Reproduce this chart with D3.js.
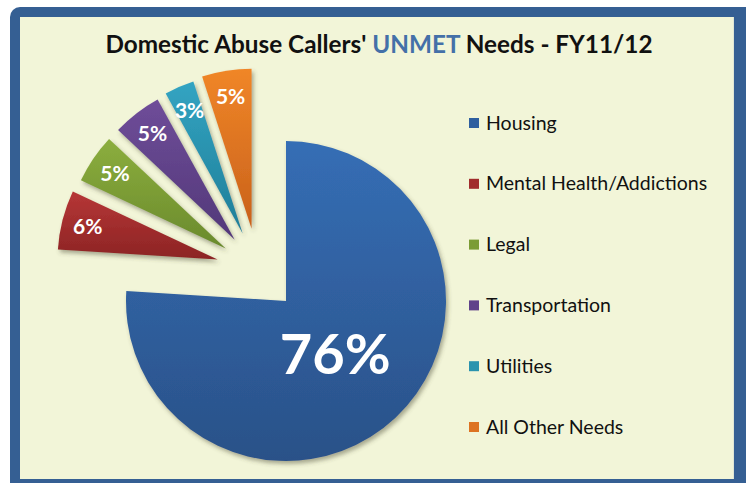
<!DOCTYPE html>
<html><head><meta charset="utf-8">
<script src="https://cdn.jsdelivr.net/npm/d3@7/dist/d3.min.js"></script>
<style>html,body{margin:0;padding:0;background:#fff;} svg{display:block}</style>
</head><body>
<svg id="c" width="746" height="483"></svg>
<script>
const categories = ["Housing","Mental Health/Addictions","Legal","Transportation","Utilities","All Other Needs"];
const values = [76,6,5,5,3,5];
const labels = ["76%","6%","5%","5%","3%","5%"];
const colorsTop = ["#356eb5","#b63636","#8cae3e","#6f4d99","#33a4c2","#f08628"];
const colorsBottom = ["#2a5188","#8c2424","#6a8a2c","#523879","#1f7e98","#c9611b"];
const legendColors = ["#2f5f9f","#a12c2c","#7b9c35","#60428a","#2a93ae","#dd7322"];

const svg = d3.select("#c");
const defs = svg.append("defs");

// frame
svg.append("rect").attr("x",10).attr("y",7).attr("width",760).attr("height",500).attr("rx",10).attr("fill","#355f93");
svg.append("rect").attr("x",20).attr("y",17).attr("width",714).attr("height",462).attr("fill","#f2f5d8");
svg.append("line").attr("x1",733.5).attr("x2",733.5).attr("y1",17).attr("y2",479).attr("stroke","#dfe6d6").attr("stroke-width",1);

// gradients
categories.forEach((c,i)=>{
  const g = defs.append("linearGradient").attr("id","g"+i).attr("x1",0).attr("y1",0).attr("x2",0).attr("y2",1);
  g.append("stop").attr("offset","0%").attr("stop-color",colorsTop[i]);
  g.append("stop").attr("offset","100%").attr("stop-color",colorsBottom[i]);
});
const f = defs.append("filter").attr("id","sh").attr("x","-20%").attr("y","-20%").attr("width","140%").attr("height","140%");
f.append("feDropShadow").attr("dx",2).attr("dy",3).attr("stdDeviation",2.2).attr("flood-color","#4a4a30").attr("flood-opacity",0.45);

// title
const title = svg.append("text").attr("x",379).attr("y",53).attr("text-anchor","middle")
  .attr("font-family","Lato, 'Open Sans', sans-serif").attr("font-weight","bold").attr("font-size",24.3).attr("fill","#111");
title.append("tspan").text("Domestic Abuse Callers' ");
title.append("tspan").attr("fill","#4470a8").text("UNMET");
title.append("tspan").text(" Needs - FY11/12");

// pie
const cx = 286, cy = 301, R = 160, explode = 80;
const pie = d3.pie().sort(null).value(d=>d);
const arcs = pie(values);
const arc = d3.arc().innerRadius(0).outerRadius(R);
function offset(d,i){
  if(i===0) return [0,0];
  const mid = (d.startAngle+d.endAngle)/2;
  const base = 318*Math.PI/180;
  const th = base + 0.5*(mid-base);
  return [explode*Math.sin(th), -explode*Math.cos(th)];
}
const g = svg.append("g").attr("transform",`translate(${cx},${cy})`);
const slices = g.selectAll("g.s").data(arcs).join("g").attr("class","s")
  .attr("transform",(d,i)=>{const o=offset(d,i);return `translate(${o[0]},${o[1]})`;});
slices.append("path").attr("d",arc).attr("fill",(d,i)=>`url(#g${i})`).attr("filter","url(#sh)");
slices.append("text")
  .attr("transform",(d,i)=>{
    const mid=(d.startAngle+d.endAngle)/2;
    const r = i===0?72:134;
    return `translate(${r*Math.sin(mid)},${-r*Math.cos(mid)})`;
  })
  .attr("text-anchor","middle").attr("dy","0.36em")
  .attr("font-family","Lato, 'Open Sans', sans-serif").attr("font-weight","bold")
  .attr("font-size",(d,i)=>i===0?56:21).attr("fill","#fff")
  .text((d,i)=>labels[i]);

// legend
const lg = svg.append("g").attr("transform","translate(469,0)");
const items = lg.selectAll("g").data(categories).join("g")
  .attr("transform",(d,i)=>`translate(0,${123+i*60.8})`);
items.append("rect").attr("x",0).attr("y",-5).attr("width",10).attr("height",10).attr("fill",(d,i)=>legendColors[i]);
items.append("text").attr("x",17).attr("y",6.5).attr("font-family","Lato, 'Open Sans', sans-serif").attr("font-size",19.5).attr("fill","#111").text(d=>d);
</script>
</body></html>
